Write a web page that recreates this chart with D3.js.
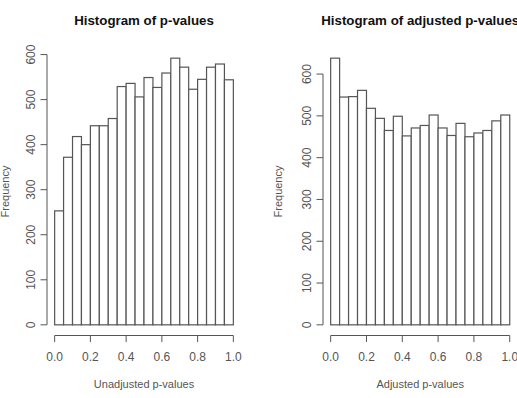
<!DOCTYPE html>
<html>
<head>
<meta charset="utf-8">
<script src="https://cdn.jsdelivr.net/npm/d3@7"></script>
<style>
  body { margin: 0; background: #fff; }
  text { font-family: "Liberation Sans", Arial, sans-serif; }
</style>
</head>
<body>
<div id="chart"></div>
<script>
// 20 bins of width 0.05 on [0, 1]
const binEdges = d3.range(0, 21).map(i => i / 20);
const rawCounts = [253, 372, 418, 400, 442, 442, 458, 529, 536, 506, 549, 527, 559, 592, 572, 523, 545, 572, 579, 544];
const adjCounts = [638, 545, 546, 561, 518, 494, 465, 499, 452, 471, 477, 502, 471, 453, 482, 450, 459, 465, 488, 502];
const xTicks = [0, 0.2, 0.4, 0.6, 0.8, 1.0];
const yTicks = [0, 100, 200, 300, 400, 500, 600];
const titles = ["Histogram of p-values", "Histogram of adjusted p-values"];
const xLabels = ["Unadjusted p-values", "Adjusted p-values"];

const width = 517;
const height = 398;
const stroke = "#555";
const textColor = "#555";

const svg = d3.select("#chart")
    .append("svg")
    .attr("width", width)
    .attr("height", height);

function drawHist(counts, left, right, title, xLabel, ylabOffset) {
    const top = 47.5, bottom = 335.5;
    const ymax = d3.max(counts);

    const x = d3.scaleLinear().domain([-0.04, 1.04]).range([left, right]);
    const y = d3.scaleLinear().domain([-0.04 * ymax, 1.04 * ymax]).range([bottom, top]);

    const g = svg.append("g");

    g.selectAll("rect")
        .data(counts)
        .enter()
        .append("rect")
        .attr("x", (d, i) => x(binEdges[i]))
        .attr("width", (d, i) => x(binEdges[i + 1]) - x(binEdges[i]))
        .attr("y", d => y(d))
        .attr("height", d => y(0) - y(d))
        .attr("fill", "white")
        .attr("stroke", stroke)
        .attr("stroke-width", 1.2);

    // y axis, R style: line from first to last tick, labels rotated
    const ya = g.append("g");
    ya.append("line")
        .attr("x1", left - 0.5).attr("x2", left - 0.5)
        .attr("y1", y(yTicks[0])).attr("y2", y(yTicks[yTicks.length - 1]))
        .attr("stroke", stroke);
    ya.selectAll(".yt")
        .data(yTicks)
        .enter()
        .append("line")
        .attr("x1", left - 0.5).attr("x2", left - 7)
        .attr("y1", d => y(d)).attr("y2", d => y(d))
        .attr("stroke", stroke);
    ya.selectAll(".yl")
        .data(yTicks)
        .enter()
        .append("text")
        .attr("transform", d => `translate(${left - 17},${y(d)}) rotate(-90)`)
        .attr("text-anchor", "middle")
        .attr("dy", "0.35em")
        .attr("font-size", "12px")
        .attr("fill", textColor)
        .text(d => d);

    // x axis below the plot region
    const xa = g.append("g");
    xa.append("line")
        .attr("x1", x(xTicks[0])).attr("x2", x(xTicks[xTicks.length - 1]))
        .attr("y1", bottom).attr("y2", bottom)
        .attr("stroke", stroke);
    xa.selectAll(".xt")
        .data(xTicks)
        .enter()
        .append("line")
        .attr("x1", d => x(d)).attr("x2", d => x(d))
        .attr("y1", bottom).attr("y2", bottom + 6.5)
        .attr("stroke", stroke);
    xa.selectAll(".xl")
        .data(xTicks)
        .enter()
        .append("text")
        .attr("x", d => x(d))
        .attr("y", 357)
        .attr("dy", "0.35em")
        .attr("text-anchor", "middle")
        .attr("font-size", "12px")
        .attr("fill", textColor)
        .text(d => d.toFixed(1));

    g.append("text")
        .attr("x", (left + right) / 2)
        .attr("y", 384)
        .attr("dy", "0.35em")
        .attr("text-anchor", "middle")
        .attr("font-size", "11px")
        .attr("fill", textColor)
        .text(xLabel);

    g.append("text")
        .attr("transform", `translate(${left - ylabOffset},${(top + bottom) / 2}) rotate(-90)`)
        .attr("text-anchor", "middle")
        .attr("dy", "0.35em")
        .attr("font-size", "11px")
        .attr("fill", textColor)
        .text("Frequency");

    g.append("text")
        .attr("x", (left + right) / 2)
        .attr("y", 20)
        .attr("dy", "0.35em")
        .attr("text-anchor", "middle")
        .attr("font-size", "13.3px")
        .attr("font-weight", "bold")
        .attr("fill", "#111")
        .text(title);
}

drawHist(rawCounts, 47.5, 240.5, titles[0], xLabels[0], 42.5);
drawHist(adjCounts, 323.5, 516.9, titles[1], xLabels[1], 45.5);
</script>
</body>
</html>
